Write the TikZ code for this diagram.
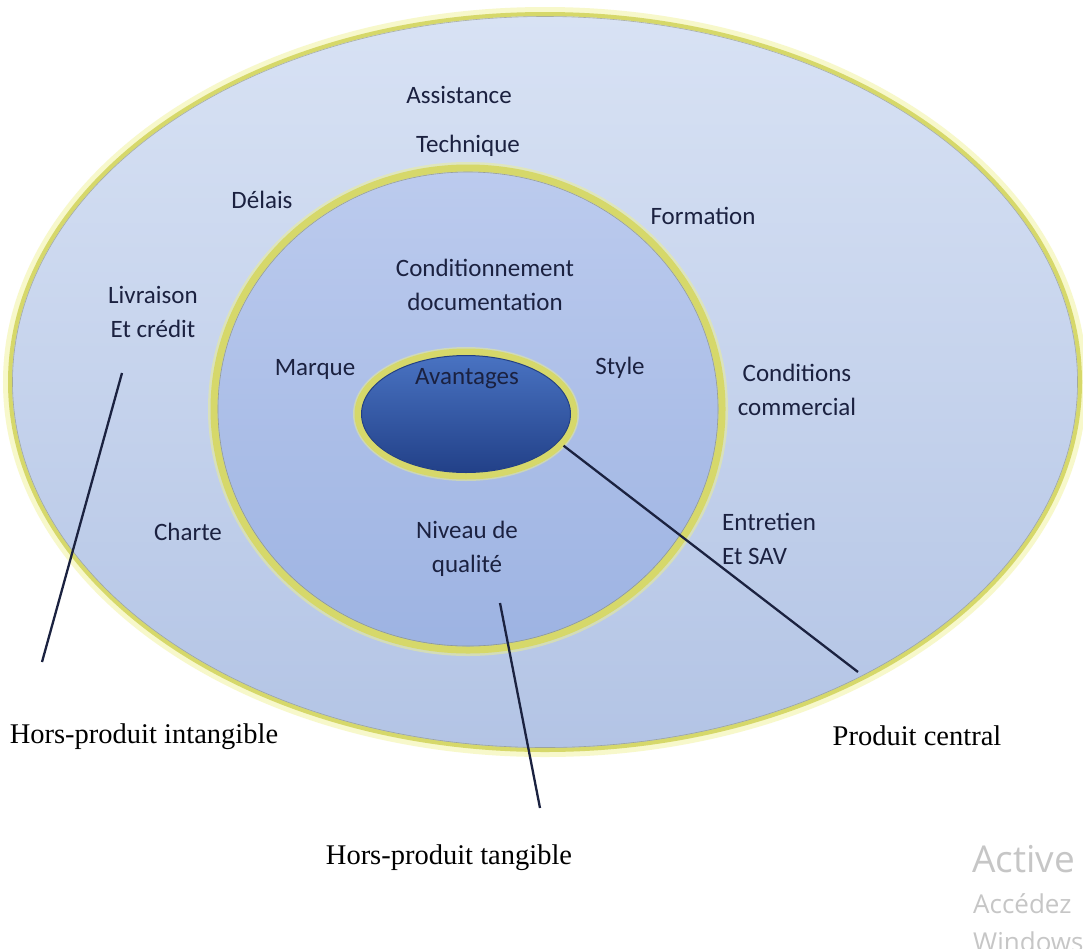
\documentclass[tikz,border=0pt]{standalone}
\usepackage{fontspec}
\setmainfont{Liberation Serif}
\newfontfamily\calib{Carlito}
\newfontfamily\wmfont{Open Sans}
\usetikzlibrary{shapes.geometric}

\definecolor{labtext}{HTML}{1B2140}
\definecolor{leadcol}{HTML}{1B2240}
\definecolor{ringyel}{HTML}{D6D86A}
\definecolor{glowyel}{HTML}{EEF08C}
\definecolor{ringedge}{HTML}{8C9070}
\definecolor{outerTop}{HTML}{D8E2F4}
\definecolor{outerMid}{HTML}{B9C8E6}
\definecolor{outerBot}{HTML}{B3C4E5}
\definecolor{midTop}{HTML}{BCCBEE}
\definecolor{midMid}{HTML}{95ACDE}
\definecolor{midBot}{HTML}{9DB3E2}
\definecolor{innTop}{HTML}{4A74C4}
\definecolor{innMid}{HTML}{2D549F}
\definecolor{innBot}{HTML}{213F86}
\definecolor{wmgrey}{HTML}{C6C6C6}

\begin{document}
\begin{tikzpicture}[x=1pt,y=-1pt,
  lab/.style={font=\calib\fontsize{25}{34}\selectfont, text=labtext,
              align=center, inner sep=0pt},
  caption/.style={font=\fontsize{28.5}{34}\selectfont, text=black, inner sep=0pt},
  leader/.style={draw=leadcol, line width=2.3pt},
  glow/.style={draw=glowyel, opacity=0.45, line width=14pt},
  ring/.style={draw=ringyel, line width=#1},
  wm/.style={font=\wmfont, text=wmgrey, inner sep=0pt, anchor=base west}]
\useasboundingbox (0,0) rectangle (1083,948);
\clip (0,0) rectangle (1083,948);
\fill[white] (0,0) rectangle (1083,948);

% outer layer
\draw[glow] (545,382) ellipse [x radius=535pt, y radius=368pt];
\shade[top color=outerTop, middle color=outerMid, bottom color=outerBot]
  (545,382) ellipse [x radius=535pt, y radius=368pt];
\draw[ring=4pt] (545,382) ellipse [x radius=535pt, y radius=368pt];
\draw[ringedge, line width=0.6pt, opacity=0.6] (545,382) ellipse [x radius=532.5pt, y radius=365.5pt];

% middle layer
\draw[draw=glowyel, opacity=0.5, line width=12pt] (468,409) ellipse [x radius=254pt, y radius=241pt];
\shade[top color=midTop, middle color=midMid, bottom color=midBot]
  (468,409) ellipse [x radius=254pt, y radius=241pt];
\draw[ring=7pt] (468,409) ellipse [x radius=254pt, y radius=241pt];
\draw[ringedge, line width=0.6pt, opacity=0.7] (468,409) ellipse [x radius=250pt, y radius=237pt];

% core
\draw[draw=glowyel, opacity=0.5, line width=10pt] (466,414) ellipse [x radius=108pt, y radius=62pt];
\node[ellipse, minimum width=216pt, minimum height=124pt, inner sep=0pt,
      top color=innTop, middle color=innMid, bottom color=innBot,
      draw=ringyel, line width=7pt] (avantages) at (466,414) {};
\draw[innBot, line width=1pt] (466,414) ellipse [x radius=104.5pt, y radius=58.5pt];
\node[lab, text=labtext] (avtext) at (467,379) {Avantages};

% outer-layer labels
\node[lab] (assistance) at (459,95) {Assistance};
\node[lab] (technique) at (468,146) {Technique};
\node[lab] (delais) at (262,200) {Délais};
\node[lab] (formation) at (703,216) {Formation};
\node[lab] (livraison) at (153,312) {Livraison\\Et crédit};
\node[lab] (conditions) at (797,390) {Conditions\\commercial};
\node[lab] (charte) at (188,532) {Charte};
\node[lab, align=left, anchor=west] (entretien) at (722,539) {Entretien\\Et SAV};

% middle-layer labels
\node[lab] (condit) at (485,285) {Conditionnement\\documentation};
\node[lab] (marque) at (315,369) {Marque};
\node[lab] (style) at (620,368) {Style};
\node[lab] (niveau) at (467,549) {Niveau de\\qualité};

% captions
\node[caption] (intang) at (144,737) {Hors-produit intangible};
\node[caption] (central) at (917,736) {Produit central};
\node[caption] (tang) at (449,858) {Hors-produit tangible};

% leader lines
\coordinate (l1a) at (122,373);
\coordinate (l1b) at (42,662);
\coordinate (l2a) at (500,603);
\coordinate (l2b) at (540,808);
\coordinate (l3b) at (858,672);
\draw[leader] (l1a) -- (l1b);
\draw[leader] (l2a) -- (l2b);
\draw[leader] (avantages.-18) -- (l3b);

% screen watermark
\node[wm, font=\wmfont\fontsize{37}{40}\selectfont] (wm1) at (972,872) {Active};
\node[wm, font=\wmfont\fontsize{26}{28}\selectfont] (wm2) at (973,913) {Accédez};
\node[wm, font=\wmfont\fontsize{26}{28}\selectfont] (wm3) at (973,951) {Windows};
\end{tikzpicture}
\end{document}
